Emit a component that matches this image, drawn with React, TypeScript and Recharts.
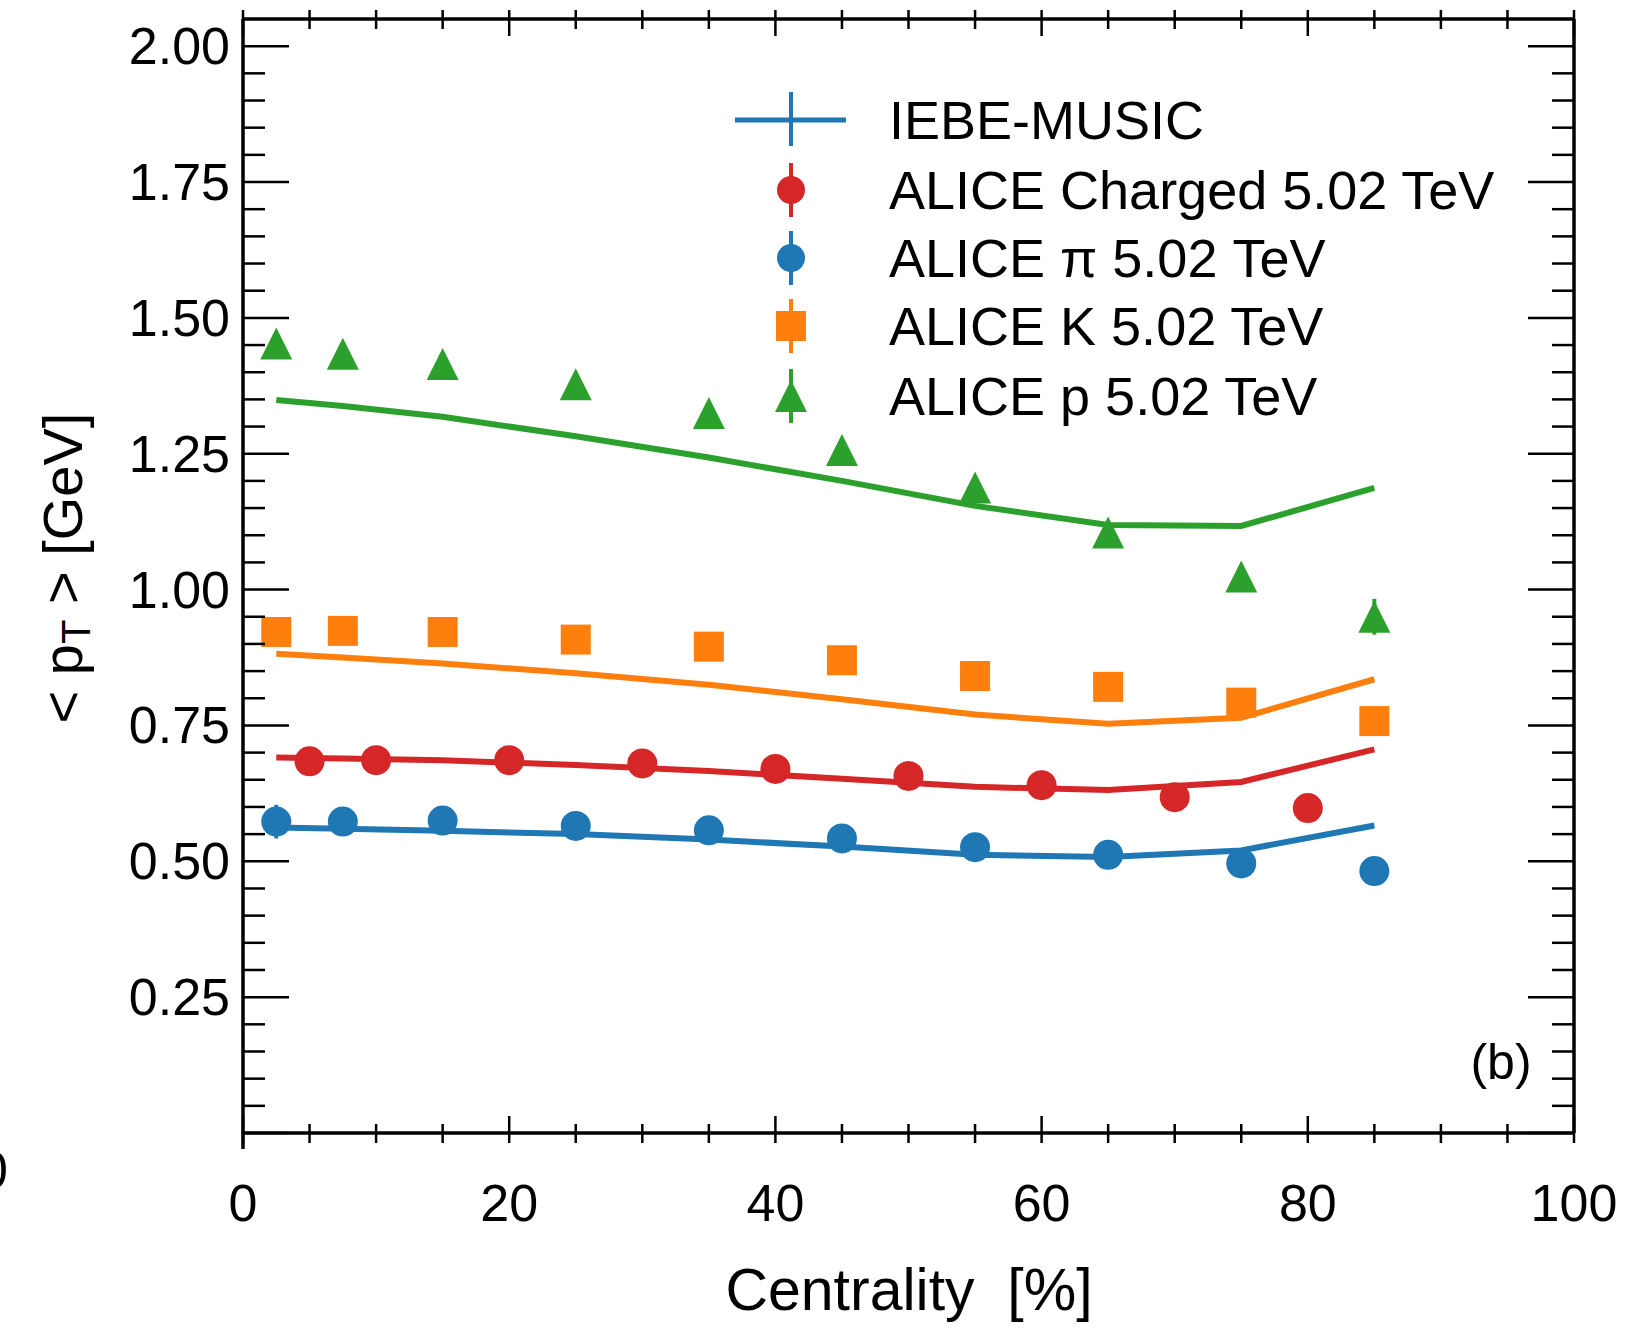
import React from "react";
import { ComposedChart, Line, Scatter, XAxis, YAxis, ErrorBar, Legend } from "recharts";

// model curves (IEBE-MUSIC)
const modelCentrality = [2.5, 7.5, 15, 25, 35, 45, 55, 65, 75, 85];
const modelPion = [0.562, 0.56, 0.556, 0.55, 0.54, 0.527, 0.512, 0.508, 0.52, 0.566];
const modelCharged = [0.691, 0.689, 0.686, 0.677, 0.666, 0.652, 0.637, 0.631, 0.646, 0.706];
const modelKaon = [0.882, 0.875, 0.864, 0.846, 0.825, 0.798, 0.77, 0.753, 0.764, 0.835];
const modelProton = [1.349, 1.338, 1.318, 1.282, 1.243, 1.2, 1.154, 1.119, 1.117, 1.187];

// ALICE data
const pidCentrality = [2.5, 7.5, 15, 25, 35, 45, 55, 65, 75, 85];
const alicePion = [0.573, 0.573, 0.575, 0.565, 0.557, 0.542, 0.526, 0.512, 0.496, 0.482];
const alicePionErr = [0.031, 0, 0, 0, 0, 0, 0, 0, 0, 0];
const aliceKaon = [0.922, 0.924, 0.922, 0.908, 0.895, 0.87, 0.841, 0.821, 0.792, 0.758];
const aliceProton = [1.453, 1.434, 1.415, 1.378, 1.325, 1.257, 1.188, 1.105, 1.024, 0.95];
const aliceProtonErr = [0, 0, 0, 0, 0, 0, 0, 0, 0, 0.033];
const chargedCentrality = [5, 10, 20, 30, 40, 50, 60, 70, 80];
const aliceCharged = [0.684, 0.686, 0.686, 0.68, 0.67, 0.657, 0.64, 0.618, 0.598];

const xTicks = [0, 5, 10, 15, 20, 25, 30, 35, 40, 45, 50, 55, 60, 65, 70, 75, 80, 85, 90, 95, 100];
const xLabels = [0, 20, 40, 60, 80, 100];
const yTicks = [
  0, 0.05, 0.1, 0.15, 0.2, 0.25, 0.3, 0.35, 0.4, 0.45, 0.5, 0.55, 0.6, 0.65, 0.7, 0.75, 0.8, 0.85, 0.9, 0.95, 1.0,
  1.05, 1.1, 1.15, 1.2, 1.25, 1.3, 1.35, 1.4, 1.45, 1.5, 1.55, 1.6, 1.65, 1.7, 1.75, 1.8, 1.85, 1.9, 1.95, 2.0,
];
const yLabels = ["0.25", "0.50", "0.75", "1.00", "1.25", "1.50", "1.75", "2.00"];

const legendLabels = [
  "IEBE-MUSIC",
  "ALICE Charged 5.02 TeV",
  "ALICE \u03c0 5.02 TeV",
  "ALICE K 5.02 TeV",
  "ALICE p 5.02 TeV",
];

const BLUE = "#1f77b4";
const ORANGE = "#ff7f0e";
const GREEN = "#2ca02c";
const RED = "#d62728";
const FONT = "'Liberation Sans', Arial, Helvetica, sans-serif";

const toPoints = (xs: number[], ys: number[], errs?: number[]) =>
  xs.map((x, i) => ({ x, y: ys[i], err: errs ? errs[i] : 0 }));

const isMajorY = (v: number) => Math.abs(v * 4 - Math.round(v * 4)) < 1e-6;
const yLabelFor = (v: number) => yLabels.find((l) => Math.abs(parseFloat(l) - v) < 1e-6);

function BottomTick(props: any) {
  const { x, y, payload } = props;
  const v = payload.value;
  const major = xLabels.includes(v);
  return (
    <g>
      <line x1={x} x2={x} y1={y - (major ? 17 : 9)} y2={y + 10} stroke="#000" strokeWidth={2.5} />
      {major && (
        <text x={x} y={y + 88} textAnchor="middle" fontSize={52} fontFamily={FONT} fill="#000">
          {v}
        </text>
      )}
    </g>
  );
}

function TopTick(props: any) {
  const { x, y, payload } = props;
  const major = xLabels.includes(payload.value);
  return <line x1={x} x2={x} y1={y - 9} y2={y + (major ? 17 : 10)} stroke="#000" strokeWidth={2.5} />;
}

function LeftTick(props: any) {
  const { x, y, payload } = props;
  const v = payload.value;
  const major = isMajorY(v);
  const label = yLabelFor(v);
  return (
    <g>
      <line x1={x} x2={x + (major ? 46 : 22)} y1={y} y2={y} stroke="#000" strokeWidth={2.5} />
      {v === 0 && <line x1={x} x2={x} y1={y} y2={y + 16} stroke="#000" strokeWidth={3.5} />}
      {label && (
        <text x={x - 13} y={y + 18} textAnchor="end" fontSize={52} fontFamily={FONT} fill="#000">
          {label}
        </text>
      )}
    </g>
  );
}

function RightTick(props: any) {
  const { x, y, payload } = props;
  const major = isMajorY(payload.value);
  return <line x1={x - (major ? 46 : 22)} x2={x} y1={y} y2={y} stroke="#000" strokeWidth={2.5} />;
}

const circleShape = (color: string) => (p: any) => <circle cx={p.cx} cy={p.cy} r={15} fill={color} />;
const squareShape = (p: any) => <rect x={p.cx - 15} y={p.cy - 15} width={30} height={30} fill={ORANGE} />;
const triangleShape = (p: any) => (
  <polygon points={`${p.cx},${p.cy - 16} ${p.cx - 16},${p.cy + 16} ${p.cx + 16},${p.cy + 16}`} fill={GREEN} />
);

function LegendBox() {
  const rows = [50, 120, 188, 256, 326];
  const mx = 91;
  return (
    <svg width={900} height={370} style={{ overflow: "visible" }}>
      <line x1={35} x2={146} y1={rows[0]} y2={rows[0]} stroke={BLUE} strokeWidth={5} />
      <line x1={mx} x2={mx} y1={rows[0] - 28} y2={rows[0] + 26} stroke={BLUE} strokeWidth={4} />

      <line x1={mx} x2={mx} y1={rows[1] - 27} y2={rows[1] + 27} stroke={RED} strokeWidth={4} />
      <circle cx={mx} cy={rows[1]} r={14} fill={RED} />

      <line x1={mx} x2={mx} y1={rows[2] - 27} y2={rows[2] + 27} stroke={BLUE} strokeWidth={4} />
      <circle cx={mx} cy={rows[2]} r={14} fill={BLUE} />

      <line x1={mx} x2={mx} y1={rows[3] - 27} y2={rows[3] + 27} stroke={ORANGE} strokeWidth={4} />
      <rect x={mx - 15} y={rows[3] - 15} width={30} height={30} fill={ORANGE} />

      <line x1={mx} x2={mx} y1={rows[4] - 27} y2={rows[4] + 27} stroke={GREEN} strokeWidth={4} />
      <polygon points={`${mx},${rows[4] - 16} ${mx - 16},${rows[4] + 16} ${mx + 16},${rows[4] + 16}`} fill={GREEN} />

      {legendLabels.map((l, i) => (
        <text key={l} x={189} y={rows[i] + 19} fontSize={54} fontFamily={FONT} fill="#000">
          {l}
        </text>
      ))}
    </svg>
  );
}

export default function App() {
  return (
    <div style={{ position: "absolute", left: 0, top: 0, width: 1634, height: 1329, background: "#fff" }}>
      <ComposedChart width={1634} height={1329} margin={{ top: 0, right: 0, bottom: 0, left: 0 }}>
        <XAxis
          xAxisId="b"
          dataKey="x"
          type="number"
          domain={[0, 100]}
          ticks={xTicks}
          interval={0}
          height={196}
          tickSize={0}
          tickMargin={0}
          tickLine={false}
          tick={<BottomTick />}
          axisLine={{ stroke: "#000", strokeWidth: 3.5 }}
          allowDataOverflow
        />
        <XAxis
          xAxisId="t"
          orientation="top"
          dataKey="x"
          type="number"
          domain={[0, 100]}
          ticks={xTicks}
          interval={0}
          height={19}
          tickSize={0}
          tickMargin={0}
          tickLine={false}
          tick={<TopTick />}
          axisLine={{ stroke: "#000", strokeWidth: 3.5 }}
          allowDataOverflow
        />
        <YAxis
          yAxisId="l"
          dataKey="y"
          type="number"
          domain={[0, 2.05]}
          ticks={yTicks}
          interval={0}
          width={243}
          tickSize={0}
          tickMargin={0}
          tickLine={false}
          tick={<LeftTick />}
          axisLine={{ stroke: "#000", strokeWidth: 3.5 }}
          allowDataOverflow
        />
        <YAxis
          yAxisId="r"
          orientation="right"
          dataKey="y"
          type="number"
          domain={[0, 2.05]}
          ticks={yTicks}
          interval={0}
          width={60}
          tickSize={0}
          tickMargin={0}
          tickLine={false}
          tick={<RightTick />}
          axisLine={{ stroke: "#000", strokeWidth: 3.5 }}
          allowDataOverflow
        />

        <Line xAxisId="b" yAxisId="l" data={toPoints(modelCentrality, modelProton)} dataKey="y" type="linear" stroke={GREEN} strokeWidth={6} dot={false} isAnimationActive={false} />
        <Line xAxisId="b" yAxisId="l" data={toPoints(modelCentrality, modelKaon)} dataKey="y" type="linear" stroke={ORANGE} strokeWidth={6} dot={false} isAnimationActive={false} />
        <Line xAxisId="b" yAxisId="l" data={toPoints(modelCentrality, modelCharged)} dataKey="y" type="linear" stroke={RED} strokeWidth={6} dot={false} isAnimationActive={false} />
        <Line xAxisId="b" yAxisId="l" data={toPoints(modelCentrality, modelPion)} dataKey="y" type="linear" stroke={BLUE} strokeWidth={6} dot={false} isAnimationActive={false} />

        <Scatter xAxisId="b" yAxisId="l" data={toPoints(pidCentrality, aliceProton, aliceProtonErr)} dataKey="y" shape={triangleShape} isAnimationActive={false}>
          <ErrorBar dataKey="err" direction="y" width={0} stroke={GREEN} strokeWidth={4} isAnimationActive={false} />
        </Scatter>
        <Scatter xAxisId="b" yAxisId="l" data={toPoints(pidCentrality, aliceKaon)} dataKey="y" shape={squareShape} isAnimationActive={false} />
        <Scatter xAxisId="b" yAxisId="l" data={toPoints(chargedCentrality, aliceCharged)} dataKey="y" shape={circleShape(RED)} isAnimationActive={false} />
        <Scatter xAxisId="b" yAxisId="l" data={toPoints(pidCentrality, alicePion, alicePionErr)} dataKey="y" shape={circleShape(BLUE)} isAnimationActive={false}>
          <ErrorBar dataKey="err" direction="y" width={0} stroke={BLUE} strokeWidth={4} isAnimationActive={false} />
        </Scatter>

        <Legend
          layout="vertical"
          align="center"
          verticalAlign="middle"
          content={() => <LegendBox />}
          wrapperStyle={{ left: 700, top: 70, width: 900, height: 370 }}
        />
      </ComposedChart>

      <svg width={1634} height={1329} style={{ position: "absolute", left: 0, top: 0, pointerEvents: "none", overflow: "visible" }}>
        <text x={1501} y={1079} textAnchor="middle" fontSize={50} fontFamily={FONT} fill="#000">
          (b)
        </text>
        <text x={909} y={1310} textAnchor="middle" fontSize={59} fontFamily={FONT} fill="#000" style={{ whiteSpace: "pre" }}>
          {"Centrality  [%]"}
        </text>
        <text
          transform="translate(82, 568) rotate(-90)"
          textAnchor="middle"
          fontSize={56}
          fontFamily={FONT}
          fill="#000"
          style={{ whiteSpace: "pre" }}
        >
          <tspan>{"< p"}</tspan>
          <tspan fontSize={40} dy={8}>T</tspan>
          <tspan dy={-8}>{" > [GeV]"}</tspan>
        </text>
        <text x={-21} y={1188} fontSize={52} fontFamily={FONT} fill="#000">
          0
        </text>
      </svg>
    </div>
  );
}
